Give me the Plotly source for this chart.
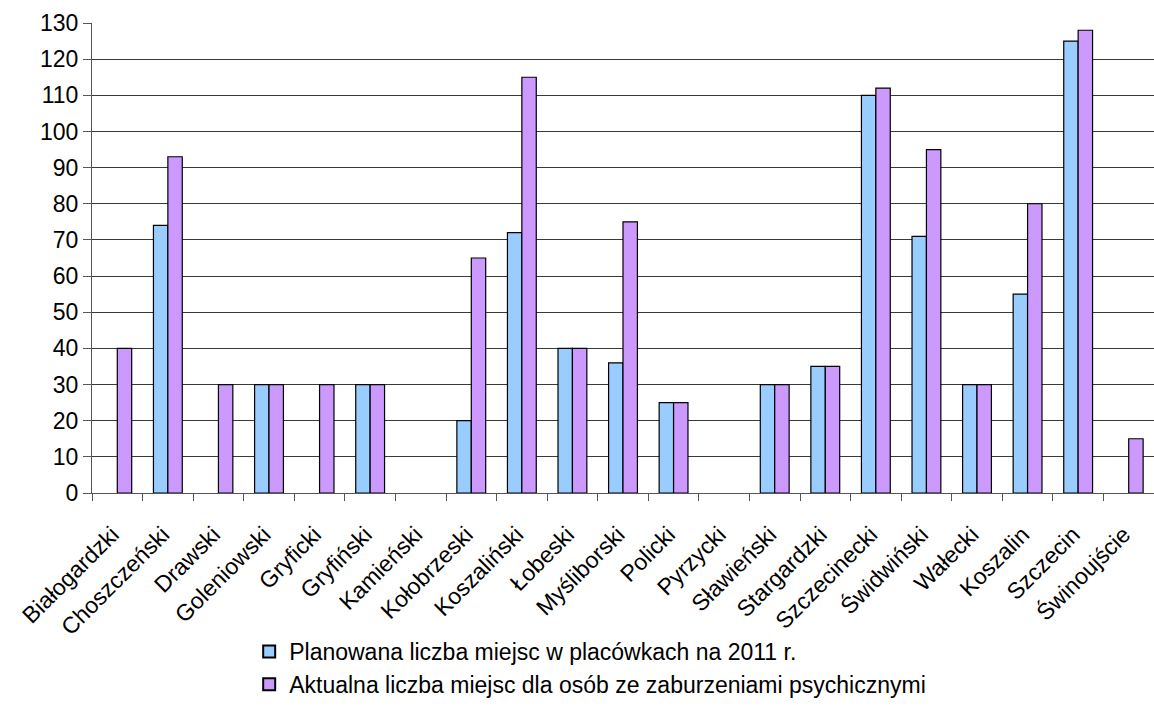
import plotly.graph_objects as go

categories = ["Białogardzki", "Choszczeński", "Drawski", "Goleniowski", "Gryficki",
              "Gryfiński", "Kamieński", "Kołobrzeski", "Koszaliński", "Łobeski",
              "Myśliborski", "Policki", "Pyrzycki", "Sławieński", "Stargardzki",
              "Szczecinecki", "Świdwiński", "Wałecki", "Koszalin", "Szczecin", "Świnoujście"]
planned = [None, 74, None, 30, None, 30, None, 20, 72, 40, 36, 25, None, 30, 35, 110, 71, 30, 55, 125, None]
actual = [40, 93, 30, 30, 30, 30, None, 65, 115, 40, 75, 25, None, 30, 35, 112, 95, 30, 80, 128, 15]
series_names = ["Planowana liczba miejsc w placówkach na 2011 r.",
                "Aktualna liczba miejsc dla osób ze zaburzeniami psychicznymi"]
y_ticks = list(range(0, 131, 10))

FONT = "Liberation Sans, Arial, sans-serif"

fig = go.Figure()
fig.add_trace(go.Bar(x=categories, y=planned, name=series_names[0],
                     marker=dict(color="#99CCFF", line=dict(color="#000000", width=1.2))))
fig.add_trace(go.Bar(x=categories, y=actual, name=series_names[1],
                     marker=dict(color="#CC99FF", line=dict(color="#000000", width=1.2))))

fig.update_layout(
    width=1154, height=706,
    margin=dict(l=92, r=0, t=23, b=208),
    paper_bgcolor="white", plot_bgcolor="white",
    barmode="group", bargap=0.43, bargroupgap=0,
    font=dict(family=FONT, size=23, color="#000000"),
    legend=dict(orientation="v", x=0.148, xanchor="left", y=-0.292, yanchor="top",
                font=dict(size=23), tracegroupgap=0, itemsizing="constant",
                bgcolor="rgba(0,0,0,0)"),
    showlegend=True,
)
fig.update_xaxes(
    type="category", range=[-0.5, len(categories) - 0.5],
    tickangle=-45, tickson="boundaries", ticks="outside", ticklen=7, tickcolor="#555",
    showline=True, linecolor="#555", linewidth=1, showgrid=False,
    tickfont=dict(size=23), ticklabelstandoff=18, ticklabelshift=-5,
)
fig.update_yaxes(
    range=[0, 130], tickvals=y_ticks, ticks="outside", ticklen=8, tickcolor="#555",
    showline=True, linecolor="#555", linewidth=1,
    showgrid=True, gridcolor="#3a3a3a", gridwidth=1, zeroline=False,
    tickfont=dict(size=23),
)

fig.write_html("out.html", config={"displayModeBar": False},
               post_script="document.body.style.margin='0';document.body.style.overflow='hidden';")
